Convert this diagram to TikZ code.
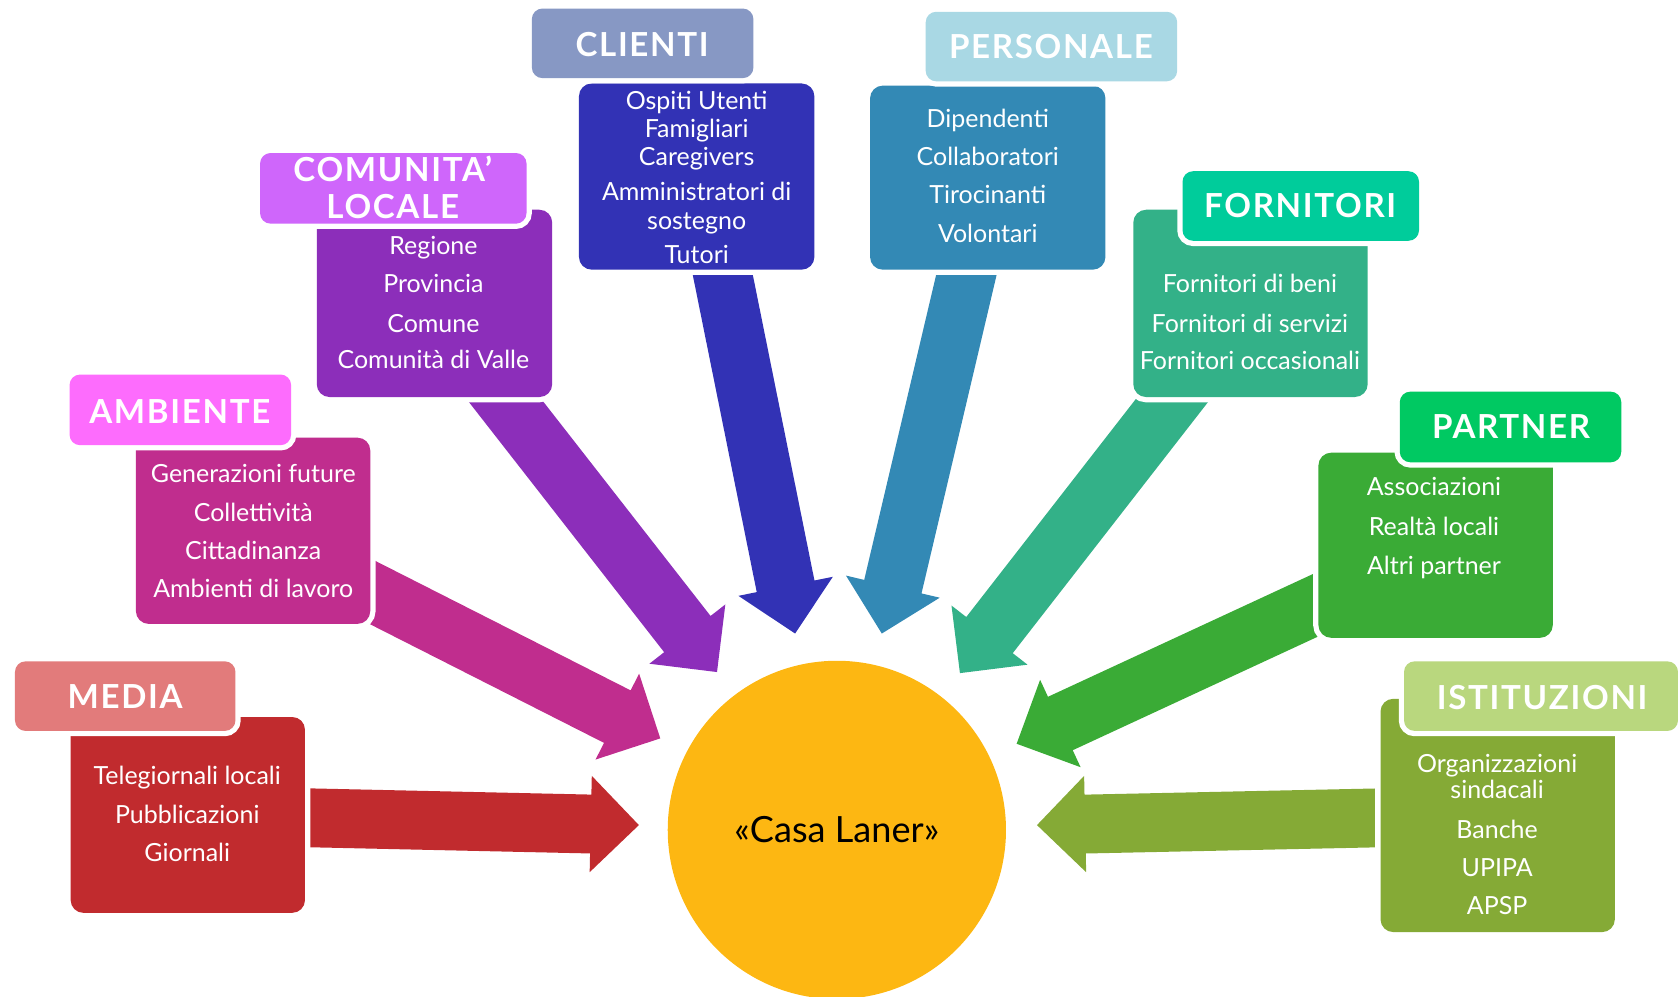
\documentclass[tikz,border=0pt]{standalone}
\usepackage{fontspec}
\setmainfont{Lato}
\newfontfamily\hdfam[LetterSpace=5]{Lato}
\usetikzlibrary{calc,fit}
\definecolor{mediaH}{HTML}{E27B7B}\definecolor{mediaB}{HTML}{C12B2E}
\definecolor{ambH}{HTML}{FD6CFD}\definecolor{ambB}{HTML}{C02D8E}
\definecolor{comH}{HTML}{CF66FB}\definecolor{comB}{HTML}{8C2EBA}
\definecolor{cliH}{HTML}{8798C4}\definecolor{cliB}{HTML}{3232B5}
\definecolor{perH}{HTML}{A9D8E4}\definecolor{perB}{HTML}{3389B5}
\definecolor{forH}{HTML}{00CC9B}\definecolor{forB}{HTML}{33B188}
\definecolor{parH}{HTML}{00C962}\definecolor{parB}{HTML}{3AAB36}
\definecolor{istH}{HTML}{B9D77E}\definecolor{istB}{HTML}{85AA36}
\definecolor{casaC}{HTML}{FDB712}
\newcommand\hdfont{\hdfam\fontsize{22}{25}\selectfont\bfseries}
\newcommand\bdfont{\fontsize{16.6}{19.5}\selectfont}
% block arrow: #1 colour, #2 tail, #3 tip
\newcommand\blockarrow[3]{%
  \coordinate (bh) at ($(#3)!1.125cm!(#2)$);
  \fill[#1] ($(#2)!0.6875cm!90:(#3)$) -- ($(bh)!0.6875cm!90:(#3)$)
    -- ($(bh)!1.125cm!90:(#3)$) -- (#3) -- ($(bh)!1.125cm!-90:(#3)$)
    -- ($(bh)!0.6875cm!-90:(#3)$) -- ($(#2)!0.6875cm!-90:(#3)$) -- cycle;}
\begin{document}
\begin{tikzpicture}[x=0.025cm,y=-0.025cm,
  ring/.style={preaction={draw=white,line width=7pt}},
  bodybox/.style={rectangle, rounded corners=8.5pt, inner sep=0pt, ring},
  headbox/.style={rectangle, rounded corners=7pt, inner sep=0pt, ring},
  htxt/.style={inner sep=0pt, text=white, font=\hdfont, text height=15.5pt, text depth=0pt},
  txt/.style={inner sep=0pt, text=white, font=\bdfont, text height=12pt, text depth=0pt}]
\useasboundingbox (0,0) rectangle (1568,931);
\clip (0,0) rectangle (1568,931);
% centre
\node[circle, fill=casaC, minimum size=7.9cm, inner sep=0pt, font=\fontsize{24}{28}\selectfont] (casa) at (782,775.5) {«Casa Laner»};
% arrow end points
\coordinate (mediaTail) at (280,764);  \coordinate (mediaTip) at (597,771);
\coordinate (ambTail) at (335,547);    \coordinate (ambTip) at (617,690);
\coordinate (comTail) at (453,350);    \coordinate (comTip) at (670,628);
\coordinate (cliTail) at (672,240);    \coordinate (cliTip) at (743,592);
\coordinate (perTail) at (907,240);    \coordinate (perTip) at (824,592);
\coordinate (forTail) at (1114,350);   \coordinate (forTip) at (897,629);
\coordinate (parTail) at (1250,556);   \coordinate (parTip) at (950,695);
\coordinate (istTail) at (1300,764);   \coordinate (istTip) at (969,771);
\blockarrow{mediaB}{mediaTail}{mediaTip}
\blockarrow{ambB}{ambTail}{ambTip}
\blockarrow{comB}{comTail}{comTip}
\blockarrow{cliB}{cliTail}{cliTip}
\blockarrow{perB}{perTail}{perTip}
\blockarrow{forB}{forTail}{forTip}
\blockarrow{parB}{parTail}{parTip}
\blockarrow{istB}{istTail}{istTip}
% bodies
\node[bodybox, fill=mediaB, fit={(66,670) (285,853)}] (mediaBody) {};
\node[bodybox, fill=ambB, fit={(127,409) (346,583)}] (ambBody) {};
\node[bodybox, fill=comB, fit={(296,196) (516,371)}] (comBody) {};
\node[bodybox, fill=cliB, fit={(541,78) (761,252)}] (cliBody) {};
\node[bodybox, fill=perB, fit={(813,80) (1033,252)}] (perBody) {};
\node[bodybox, fill=forB, fit={(1059,196) (1278,371)}] (forBody) {};
\node[bodybox, fill=parB, fit={(1232,423) (1451,596)}] (parBody) {};
\node[bodybox, fill=istB, fit={(1290,653) (1509,871)}] (istBody) {};
% headers
\node[headbox, fill=mediaH, fit={(14,618) (220,683)}] (mediaHead) {};
\node[headbox, fill=ambH, fit={(65,350) (272,416)}] (ambHead) {};
\node[headbox, fill=comH, fit={(243,143) (492,209)}] (comHead) {};
\node[headbox, fill=cliH, fit={(497,8) (704,73)}] (cliHead) {};
\node[headbox, fill=perH, fit={(865,11) (1100,76)}] (perHead) {};
\node[headbox, fill=forH, fit={(1105,160) (1326,225)}] (forHead) {};
\node[headbox, fill=parH, fit={(1308,366) (1515,432)}] (parHead) {};
\node[headbox, fill=istH, fit={(1312,618) (1568,683)}] (istHead) {};
% header texts
\node[htxt] (mediaT) at (117,651) {MEDIA};
\node[htxt] (ambT) at (168,385) {AMBIENTE};
\node[htxt] (comT1) at (367,159) {COMUNITA’};
\node[htxt] (comT2) at (367,193) {LOCALE};
\node[htxt] (cliT) at (600,42) {CLIENTI};
\node[htxt] (perT) at (982,44) {PERSONALE};
\node[htxt] (forT) at (1215,192) {FORNITORI};
\node[htxt] (parT) at (1412,399) {PARTNER};
\node[htxt] (istT) at (1441,652) {ISTITUZIONI};
% body texts
\foreach \t/\yy [count=\i] in {Telegiornali locali/725, Pubblicazioni/761, Giornali/797}
  \node[txt] (media-\i) at (175,\yy) {\t};
\foreach \t/\yy [count=\i] in {Generazioni future/442, Collettività/478.5, Cittadinanza/514, Ambienti di lavoro/550}
  \node[txt] (amb-\i) at (236.7,\yy) {\t};
\foreach \t/\yy [count=\i] in {Regione/229, Provincia/265, Comune/302, Comunità di Valle/336}
  \node[txt] (com-\i) at (405,\yy) {\t};
\foreach \t/\yy [count=\i] in {Ospiti Utenti/93.5, Famigliari/120, Caregivers/146, Amministratori di/179, sostegno/206, Tutori/238}
  \node[txt] (cli-\i) at (651,\yy) {\t};
\foreach \t/\yy [count=\i] in {Dipendenti/111, Collaboratori/146.5, Tirocinanti/182, Volontari/218}
  \node[txt] (per-\i) at (923,\yy) {\t};
\foreach \t/\yy [count=\i] in {Fornitori di beni/265, Fornitori di servizi/302, Fornitori occasionali/337}
  \node[txt] (for-\i) at (1168,\yy) {\t};
\foreach \t/\yy [count=\i] in {Associazioni/455, Realtà locali/492, Altri partner/528}
  \node[txt] (par-\i) at (1340,\yy) {\t};
\foreach \t/\yy [count=\i] in {Organizzazioni/713, sindacali/738, Banche/775, UPIPA/810.6, APSP/846}
  \node[txt] (ist-\i) at (1399,\yy) {\t};
\end{tikzpicture}
\end{document}
